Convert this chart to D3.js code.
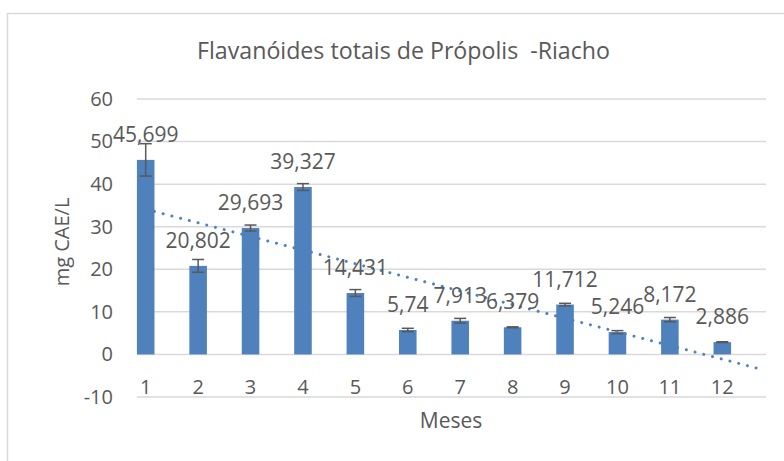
<!DOCTYPE html>
<html>
<head>
<meta charset="utf-8">
<script src="https://cdn.jsdelivr.net/npm/d3@7"></script>
<style>
  body { margin: 0; background: #fff; }
  svg text { font-family: "Open Sans", sans-serif; fill: #595959; }
</style>
</head>
<body>
<div id="chart"></div>
<script>
// values
const meses = ["1", "2", "3", "4", "5", "6", "7", "8", "9", "10", "11", "12"];
const flavanoides = [45.699, 20.802, 29.693, 39.327, 14.431, 5.74, 7.913, 6.379, 11.712, 5.246, 8.172, 2.886];
const erros = [3.8, 1.5, 0.7, 0.8, 0.8, 0.4, 0.55, 0.1, 0.3, 0.35, 0.5, 0.1];
const rotulos = ["45,699", "20,802", "29,693", "39,327", "14,431", "5,74", "7,913", "6,379", "11,712", "5,246", "8,172", "2,886"];
const yTicks = [-10, 0, 10, 20, 30, 40, 50, 60];

const width = 784, height = 461;
const blue = "#4f81bd";

let svg = d3.select("#chart").append("svg")
            .attr("width", width)
            .attr("height", height);

// chart frame
svg.append("path")
   .attr("d", "M7.5," + height + "V13.5H" + width)
   .attr("fill", "none")
   .attr("stroke", "#d9d9d9")
   .attr("stroke-width", 1.5);

let x = d3.scaleBand()
          .domain(meses)
          .range([119.5, 748.5])
          .paddingInner(0.665)
          .paddingOuter(0.3325);

let y = d3.scaleLinear()
          .domain([-10, 60])
          .range([397, 99]);

// gridlines
svg.append("g")
   .selectAll("line")
   .data(yTicks)
   .enter()
   .append("line")
   .attr("x1", 137)
   .attr("x2", 766)
   .attr("y1", d => y(d))
   .attr("y2", d => y(d))
   .attr("stroke", "#d9d9d9")
   .attr("stroke-width", 1.5);

// y axis labels
let yAxis = d3.axisLeft(y).tickValues(yTicks).tickSize(0).tickPadding(0)
              .tickFormat(d => String(d));
let gy = svg.append("g")
            .attr("transform", "translate(113,0)")
            .call(yAxis);
gy.select(".domain").remove();
gy.selectAll("text")
  .style("font-size", "20px")
  .style("font-family", "'Open Sans', sans-serif")
  .attr("fill", "#595959");

// x axis labels
let xAxis = d3.axisBottom(x).tickSize(0).tickPadding(0);
let gx = svg.append("g")
            .attr("transform", "translate(0,394)")
            .call(xAxis);
gx.select(".domain").remove();
gx.selectAll("text")
  .attr("y", 0)
  .attr("dy", 0)
  .style("font-size", "20px")
  .style("font-family", "'Open Sans', sans-serif")
  .attr("fill", "#595959");

// bars
svg.append("g")
   .selectAll("rect")
   .data(flavanoides)
   .enter()
   .append("rect")
   .attr("x", (d, i) => x(meses[i]))
   .attr("y", d => y(d))
   .attr("width", x.bandwidth())
   .attr("height", d => y(0) - y(d))
   .attr("fill", blue);

// error bars
let eb = svg.append("g")
            .attr("stroke", "#595959")
            .attr("stroke-width", 1.5);
flavanoides.forEach((v, i) => {
    let cx = x(meses[i]) + x.bandwidth() / 2;
    let top = y(v + erros[i]), bot = y(v - erros[i]);
    eb.append("line").attr("x1", cx).attr("x2", cx).attr("y1", top).attr("y2", bot);
    eb.append("line").attr("x1", cx - 6).attr("x2", cx + 6).attr("y1", top).attr("y2", top);
    eb.append("line").attr("x1", cx - 6).attr("x2", cx + 6).attr("y1", bot).attr("y2", bot);
});

// linear trendline (least squares over the bar values), forecast forward
let n = flavanoides.length;
let xm = d3.mean(flavanoides, (d, i) => i + 1);
let ym = d3.mean(flavanoides);
let sxy = d3.sum(flavanoides, (d, i) => (i + 1 - xm) * (d - ym));
let sxx = d3.sum(flavanoides, (d, i) => (i + 1 - xm) * (i + 1 - xm));
let slope = sxy / sxx;
let icpt = ym - slope * xm;

let xc = d3.scaleLinear()
           .domain([1, n])
           .range([x(meses[0]) + x.bandwidth() / 2, x(meses[n - 1]) + x.bandwidth() / 2]);

svg.append("line")
   .attr("x1", xc(1))
   .attr("y1", y(icpt + slope * 1))
   .attr("x2", xc(12.67))
   .attr("y2", y(icpt + slope * 12.67))
   .attr("stroke", blue)
   .attr("stroke-width", 3)
   .attr("stroke-linecap", "round")
   .attr("stroke-dasharray", "0.01,9");

// data labels
svg.append("g")
   .selectAll("text")
   .data(flavanoides)
   .enter()
   .append("text")
   .attr("x", (d, i) => x(meses[i]) + x.bandwidth() / 2)
   .attr("y", d => y(d) - 18)
   .attr("text-anchor", "middle")
   .style("font-size", "21px")
   .text((d, i) => rotulos[i]);

// title
svg.append("text")
   .attr("x", 403.5)
   .attr("y", 59)
   .attr("text-anchor", "middle")
   .attr("textLength", 413)
   .attr("lengthAdjust", "spacingAndGlyphs")
   .style("font-size", "24px")
   .style("white-space", "pre")
   .text("Flavanóides totais de Própolis  -Riacho");

// axis titles
svg.append("text")
   .attr("x", 451)
   .attr("y", 428)
   .attr("text-anchor", "middle")
   .style("font-size", "21px")
   .text("Meses");

svg.append("text")
   .attr("transform", "translate(69,242) rotate(-90)")
   .attr("text-anchor", "middle")
   .style("font-size", "20px")
   .text("mg CAE/L");
</script>
</body>
</html>
